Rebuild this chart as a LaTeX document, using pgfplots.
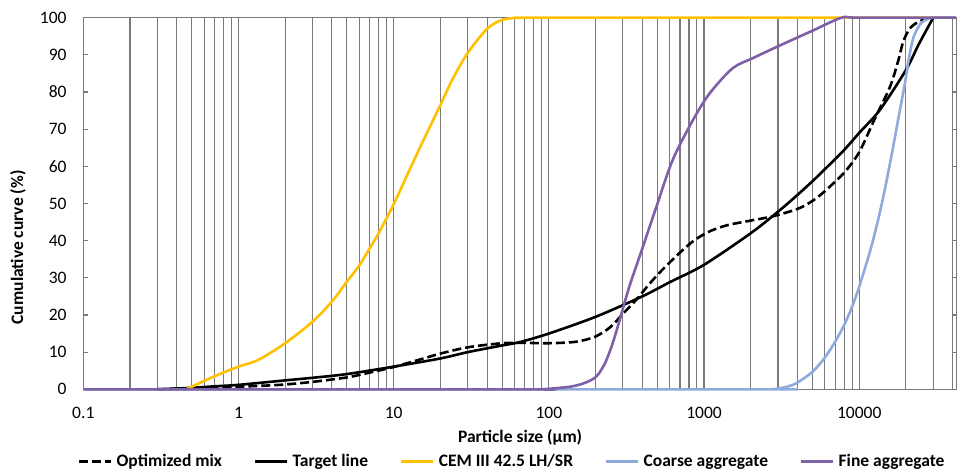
\documentclass[border=0pt]{standalone}
\usepackage{fontspec}
\setmainfont{Carlito}
\usepackage{pgfplots}
\pgfplotsset{compat=1.18}
\definecolor{cemyellow}{HTML}{FFC000}
\definecolor{coarseblue}{HTML}{8FAADC}
\definecolor{finepurple}{HTML}{7E60A6}
\definecolor{gridgray}{HTML}{7A7A7A}

\begin{document}
\fontsize{17.5}{21}\selectfont
\begin{tikzpicture}
\begin{axis}[
  at={(0pt,0pt)}, anchor=south west,
  scale only axis, width=873.7pt, height=371.6pt,
  xmode=log, log basis x=10,
  xmin=0.1, xmax=42700, ymin=0, ymax=100,
  clip=false,
  xtick={0.1,1,10,100,1000,10000},
  xticklabels={0.1,1,10,100,1000,10000},
  minor xtick={0.2,0.3,0.4,0.5,0.6,0.7,0.8,0.9,2,3,4,5,6,7,8,9,
    20,30,40,50,60,70,80,90,200,300,400,500,600,700,800,900,
    2000,3000,4000,5000,6000,7000,8000,9000,20000,30000,40000},
  ytick={0,10,...,100},
  xmajorgrids, xminorgrids,
  grid style={gridgray, line width=1.1pt},
  minor grid style={gridgray, line width=1.1pt},
  axis line style={gridgray, line width=1.1pt},
  x tick style={draw=none},
  y tick style={gridgray, line width=1.1pt},
  tick align=inside, major tick length=5pt, minor tick length=0pt,
  /pgf/number format/assume math mode=true,
  yticklabel style={anchor=east, inner sep=0pt, xshift=-16.6pt},
  xticklabel style={anchor=north, inner sep=0pt, yshift=-17.4pt},
  xlabel={Particle size (μm)},
  ylabel={Cumulative curve (\%)},
  xlabel style={font=\bfseries, anchor=base, at={(axis description cs:0.5,0)}, yshift=-52.7pt},
  ylabel style={font=\bfseries, anchor=center, at={(axis description cs:-0.0747,0.382)}},
  legend columns=5,
  legend style={at={(axis description cs:0.491,0)}, anchor=north, yshift=-62.7pt,
    draw=none, fill=none, font=\bfseries, inner sep=0pt,
    /tikz/every even column/.append style={column sep=30pt},
    /tikz/every odd column/.append style={column sep=2pt}},
  legend cell align=left,
  legend image code/.code={\draw[#1] (0pt,0pt) -- (32pt,0pt);},
  every axis plot/.append style={line width=2.6pt, smooth},
]
\addplot[black, dash pattern=on 9pt off 4pt] coordinates {
  (0.3,0) (0.4,0.1) (0.5,0.2) (0.7,0.45) (1,0.7) (1.5,1.0) (2,1.3) (3,2.0)
  (5,3.2) (7,4.5) (10,6.0) (15,8.1) (20,9.6) (30,11.3) (50,12.4) (70,12.5)
  (100,12.4) (150,12.8) (200,14.2) (250,16.8) (300,20.3) (364,24) (450,28.6)
  (537,32.1) (700,36.8) (873,40.2) (1100,42.6) (1426,44.2) (2000,45.4)
  (2800,46.6) (4040,48.6) (5000,50.7) (6000,53.3) (8000,58.3) (10000,63.8)
  (12500,72.5) (15800,81.4) (17900,88.6) (19200,93.5) (21200,97.1)
  (24100,98.9) (27000,99.6) (30000,100)};
\addlegendentry{Optimized mix}
\addplot[black] coordinates {
  (0.3,0) (0.5,0.4) (0.7,0.8) (1,1.2) (2,2.4) (3,3.1) (5,4.1) (10,6.1)
  (20,8.3) (30,10) (50,11.8) (65,12.7) (100,15) (200,19.5) (400,25)
  (600,28.8) (1000,33.5) (2000,42) (3000,47.8) (4000,52.3) (5000,56)
  (6000,59.2) (8000,64.4) (10000,69) (13600,75.2) (20000,85.9)
  (24100,92.7) (30000,100)};
\addlegendentry{Target line}
\addplot[cemyellow] coordinates {
  (0.46,0) (0.5,0.7) (0.7,3.5) (1,6.1) (1.34,7.9) (2,12.4) (3,18.2)
  (4,23.6) (5,29) (6,33.3) (7,37.9) (8,42) (10,49.8) (14,63) (20,76.5)
  (24,83.5) (30,90.5) (40,97) (50,99.4) (65,100) (100,100) (42000,100)};
\addlegendentry{CEM III 42.5 LH/SR}
\addplot[coarseblue] coordinates {
  (0.1,0) (2000,0) (2700,0) (3000,0.2) (3500,0.8) (4000,1.8) (5000,4.7)
  (6000,8.5) (7000,12.8) (8000,17.3) (9000,22.2) (10000,27.6) (12000,38.5)
  (14000,50) (16000,62) (18000,73.5) (19700,82.3) (21000,89.5) (22500,95)
  (25000,98.5) (27500,99.6) (30000,100) (35000,100) (42000,100)};
\addlegendentry{Coarse aggregate}
\addplot[finepurple] coordinates {
  (0.1,0) (70,0) (90,0) (137,0.7) (170,1.7) (202,3.4) (230,7) (258,12.4)
  (290,19.5) (330,27.6) (405,38.5) (493,49.1) (628,61.7) (850,72.5)
  (1090,79.7) (1530,86.4) (2060,89.1) (3000,92.3) (5000,96.5)
  (7700,100) (10000,100) (42000,100)};
\addlegendentry{Fine aggregate}
\end{axis}
\pgfresetboundingbox
\path[use as bounding box] (-83.3pt,-81.7pt) rectangle (873.7pt,389.3pt);
\end{tikzpicture}
\end{document}
